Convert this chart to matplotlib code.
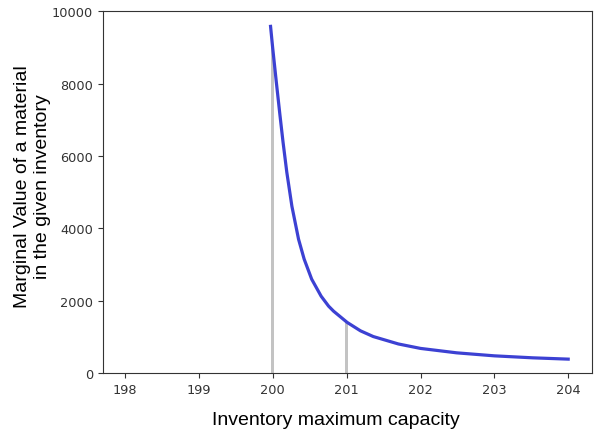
import matplotlib
matplotlib.use('Agg')
import matplotlib.pyplot as plt

# valeurs
capacity = [199.969, 199.997, 200.046, 200.095, 200.137, 200.189, 200.258, 200.348,
            200.424, 200.526, 200.654, 200.755, 200.823, 201.007, 201.187, 201.36,
            201.7, 202.0, 202.49, 203.0, 203.52, 204.0]
marginal_value = [9580, 9000, 8060, 7150, 6400, 5550, 4610, 3700,
                  3150, 2595, 2125, 1850, 1710, 1400, 1168, 1010,
                  805, 682, 560, 477, 422, 386]

bar_capacity = [200, 201]
bar_value = [9000, 1400]

xticks = [198, 199, 200, 201, 202, 203, 204]
yticks = [0, 2000, 4000, 6000, 8000, 10000]

fig = plt.figure(figsize=(5.99, 4.35), dpi=100)
ax = fig.add_axes([0.172, 0.140, 0.816, 0.832])

ax.bar(bar_capacity, bar_value, width=0.04, color='#c3c3c3', zorder=1)
ax.plot(capacity, marginal_value, color='#3c41d3', linewidth=2.3, zorder=2)

ax.set_xlim(197.7, 204.32)
ax.set_ylim(0, 10000)
ax.set_xticks(xticks)
ax.set_yticks(yticks)
ax.tick_params(labelsize=9.3, labelcolor='#333333', color='#333333')
for s in ax.spines.values():
    s.set_color('#333333')

ax.set_xlabel('Inventory maximum capacity', fontsize=14, family='Liberation Sans')
ax.set_ylabel('Marginal Value of a material\nin the given inventory', fontsize=14,
              family='Liberation Sans')
ax.xaxis.set_label_coords(0.477, -0.106)
ax.yaxis.set_label_coords(-0.107, 0.517)

fig.savefig('out.png', dpi=100)
